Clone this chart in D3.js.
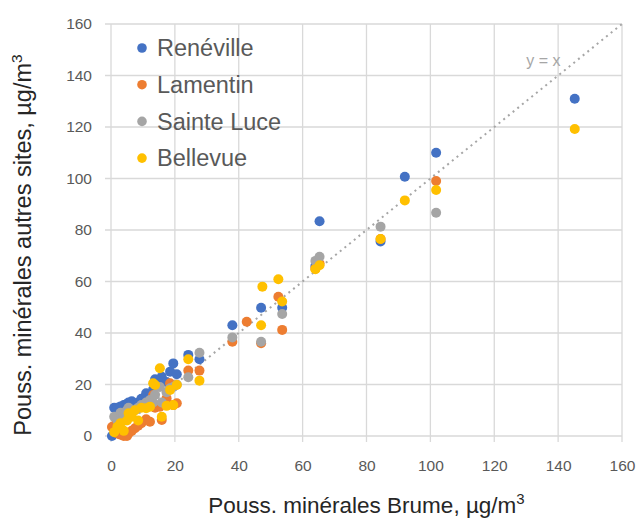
<!DOCTYPE html>
<html>
<head>
<meta charset="utf-8">
<script src="https://cdn.jsdelivr.net/npm/d3@7"></script>
<style>
  html, body { margin: 0; padding: 0; background: #fff; }
  svg { display: block; font-family: "Liberation Sans", Arial, sans-serif; }
</style>
</head>
<body>
<svg id="chart" width="640" height="519"></svg>
<script>
// ---- Data ----
const brume      = [0.3, 1.0, 2.0, 3.0, 4.0, 5.0, 5.5, 6.5, 7.5, 8.5, 9.5, 11.0, 12.2, 13.2, 13.8, 15.3, 15.9, 17.4, 18.5, 19.5, 20.6, 24.2, 27.7, 38.0, 42.5, 47.0, 47.4, 52.4, 53.6, 64.0, 65.3, 84.4, 92.0, 101.8, 145.2];
const reneville  = [0, 11, 11, 11.5, 12, 12.5, 13, 13.5, 12.5, 13, 14.5, 16.6, 15.5, 18, 22, 21, 23, 21, 25, 28.2, 24, 31.5, 29.8, 43, null, 49.8, null, null, 49.8, 66, 83.4, 75.5, 100.7, 110, 131];
const lamentin   = [3.5, 4, 1, 0.5, 0, 0, 1, 2, 3, 4, 5, 6.5, 5.5, 15.9, 11, 11.4, 6.2, 14.6, 20.5, 12, 12.7, 25.4, 25.4, 36.6, 44.4, 36, null, 54.1, 41.2, 65, 67, 76.5, null, 99, null];
const sainteLuce = [null, 7.5, 6, 9, 8, 10, 11, 9, 10, 11, 12, 13, 14, 13, 16, 19, 13, 17, 18.5, 19, 20, 22.8, 32.3, 38.3, null, 36.6, null, null, 47.4, 68, 69.6, 81.3, null, 86.7, null];
const bellevue   = [null, 1.5, 3.6, 5, 2, 6, 8.8, 7.5, 10, 6, 11, 10.8, 11.4, 20.5, 19.8, 26.3, 7.5, 11.7, 17.9, 12, 19.8, 29.8, 21.5, null, null, 43, 58, 60.9, 52.2, 64.8, 66.3, 76.5, 91.5, 95.5, 119.2];
const seriesNames  = ["Renéville", "Lamentin", "Sainte Luce", "Bellevue"];
const seriesValues = [reneville, lamentin, sainteLuce, bellevue];
const seriesColors = ["#4472c4", "#ed7d31", "#a5a5a5", "#ffc000"];
const xTicks = [0, 20, 40, 60, 80, 100, 120, 140, 160];
const yTicks = [0, 20, 40, 60, 80, 100, 120, 140, 160];

// ---- Layout ----
const svg = d3.select("#chart");
const L = 111, R = 622, T = 24, B = 436;
const x = d3.scaleLinear().domain([0, 160]).range([L, R]);
const y = d3.scaleLinear().domain([0, 160]).range([B, T]);

// gridlines
const grid = svg.append("g");
grid.selectAll("line.h").data(yTicks).join("line")
  .attr("x1", L - 6).attr("x2", R)
  .attr("y1", d => y(d)).attr("y2", d => y(d))
  .attr("stroke", "#d9d9d9").attr("stroke-width", 1.3);
grid.selectAll("line.v").data(xTicks).join("line")
  .attr("x1", d => x(d)).attr("x2", d => x(d))
  .attr("y1", T).attr("y2", B + 6)
  .attr("stroke", "#d9d9d9").attr("stroke-width", 1.3);

// y axis labels
const yAxis = svg.append("g").attr("transform", `translate(${L - 19},0)`)
  .call(d3.axisLeft(y).tickValues(yTicks).tickSize(0).tickPadding(0));
yAxis.select(".domain").remove();
yAxis.selectAll("text").attr("fill", "#595959").attr("font-size", 15.5)
  .attr("font-family", "Liberation Sans, Arial, sans-serif");

// x axis labels
const xAxis = svg.append("g").attr("transform", `translate(0,${B + 24})`)
  .call(d3.axisBottom(x).tickValues(xTicks).tickSize(0).tickPadding(0));
xAxis.select(".domain").remove();
xAxis.selectAll("text").attr("fill", "#595959").attr("font-size", 15.5)
  .attr("font-family", "Liberation Sans, Arial, sans-serif");

// y = x reference line
svg.append("line")
  .attr("x1", x(0)).attr("y1", y(0)).attr("x2", x(160)).attr("y2", y(160))
  .attr("stroke", "#a6a6a6").attr("stroke-width", 2)
  .attr("stroke-dasharray", "2,4");
svg.append("text").attr("x", x(130)).attr("y", y(143.5))
  .attr("fill", "#a6a6a6").attr("font-size", 16).text("y = x");

// points
seriesValues.forEach((vals, i) => {
  const pts = brume.map((bx, j) => ({ bx, v: vals[j] })).filter(d => d.v !== null);
  svg.append("g").selectAll("circle").data(pts).join("circle")
    .attr("cx", d => x(d.bx)).attr("cy", d => y(d.v)).attr("r", 5)
    .attr("fill", seriesColors[i]);
});

// legend
const leg = svg.append("g");
seriesNames.forEach((n, i) => {
  const yy = 48 + i * 36.7;
  leg.append("circle").attr("cx", 142).attr("cy", yy).attr("r", 4.8).attr("fill", seriesColors[i]);
  leg.append("text").attr("x", 157).attr("y", yy).attr("dy", "0.35em")
    .attr("fill", "#595959").attr("font-size", 23.5).text(n);
});

// axis titles
const xt = svg.append("text").attr("x", (L + R) / 2).attr("y", 513)
  .attr("text-anchor", "middle").attr("fill", "#262626").attr("font-size", 22.5);
xt.append("tspan").text("Pouss. minérales Brume, µg/m");
xt.append("tspan").attr("dy", -9).attr("font-size", 15).text("3");

const yt = svg.append("text").attr("transform", `translate(31,245) rotate(-90)`)
  .attr("text-anchor", "middle").attr("fill", "#262626").attr("font-size", 23.5);
yt.append("tspan").text("Pouss. minérales autres sites, µg/m");
yt.append("tspan").attr("dy", -9).attr("font-size", 15.5).text("3");
</script>
</body>
</html>
